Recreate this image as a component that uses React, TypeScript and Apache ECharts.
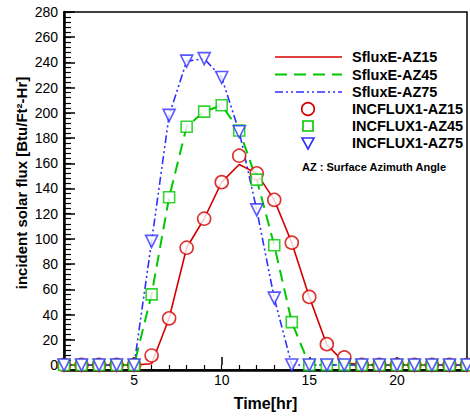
import React, { useEffect, useRef } from "react";
import * as echarts from "echarts";

// Hour of day for every sample
const hours = [1, 2, 3, 4, 5, 6, 7, 8, 9, 10, 11, 12, 13, 14, 15, 16, 17, 18, 19, 20, 21, 22, 23, 24];

// SfluxE curves (lines)
const sfluxAz15 = [0, 0, 0, 0, 0, 1, 37, 93, 116, 145, 159, 152, 131, 97, 54, 16, 2, 0, 0, 0, 0, 0, 0, 0];
const sfluxAz45 = [0, 0, 0, 0, 0, 56, 133, 189, 201, 206, 186, 147, 95, 34, 0, 0, 0, 0, 0, 0, 0, 0, 0, 0];
const sfluxAz75 = [0, 0, 0, 0, 0, 98, 198, 241, 243, 228, 185, 123, 53, 0, 0, 0, 0, 0, 0, 0, 0, 0, 0, 0];

// INCFLUX1 samples (markers)
const incAz15 = [0, 0, 0, 0, 0, 7.5, 37, 93, 116, 145, 166, 152, 131, 97, 54, 16.5, 6, 0, 0, 0, 0, 0, 0, 0];
const incAz45 = [0, 0, 0, 0, 0, 56, 133, 189, 201, 206, 186, 147, 95, 34, 0, 0, 0, 0, 0, 0, 0, 0, 0, 0];
const incAz75 = [0, 0, 0, 0, 0, 98, 198, 241, 243, 228, 185, 123, 53, 0, 0, 0, 0, 0, 0, 0, 0, 0, 0, 0];

// Axis ticks
const yMajorTicks = [0, 20, 40, 60, 80, 100, 120, 140, 160, 180, 200, 220, 240, 260, 280];
const xMajorTicks = [5, 10, 15, 20];

const RED = "#d40000";
const GREEN = "#00c800";
const BLUE = "#2f2fff";
const FONT = "'Liberation Sans', Arial, sans-serif";

const pair = (ys: number[]) => hours.map((h, i) => [h, ys[i]]);

export default function App() {
  const ref = useRef<HTMLDivElement>(null);

  useEffect(() => {
    if (!ref.current) return;
    const chart = echarts.init(ref.current, undefined, { renderer: "svg" });

    const baseX = {
      type: "value" as const,
      min: 1,
      max: 24,
      interval: 1,
      splitLine: { show: false },
    };
    const baseY = {
      type: "value" as const,
      min: -4,
      max: 280,
      interval: 4,
      splitLine: { show: false },
    };

    const legendLines = [
      { y: 57, color: RED, dash: undefined as any, width: 1.6, name: "SfluxE-AZ15" },
      { y: 74.5, color: GREEN, dash: [12, 7], width: 2, name: "SfluxE-AZ45" },
      { y: 92, color: BLUE, dash: [8, 3, 2, 3, 2, 3], width: 1.6, name: "SfluxE-AZ75" },
    ];
    const legendGraphics: any[] = [];
    legendLines.forEach((l) => {
      legendGraphics.push({
        type: "line",
        shape: { x1: 275, y1: l.y, x2: 342, y2: l.y },
        style: { stroke: l.color, lineWidth: l.width, lineDash: l.dash },
      });
      legendGraphics.push({
        type: "text",
        x: 352,
        y: l.y,
        style: { text: l.name, font: `bold 14.5px ${FONT}`, fill: "#000", textVerticalAlign: "middle" },
      });
    });
    const mx = 308;
    legendGraphics.push(
      {
        type: "circle",
        shape: { cx: mx, cy: 109, r: 6.3 },
        style: { fill: "#fff", stroke: RED, lineWidth: 1.6 },
      },
      {
        type: "rect",
        shape: { x: mx - 5, y: 126 - 5, width: 10, height: 10 },
        style: { fill: "#fff", stroke: GREEN, lineWidth: 1.6 },
      },
      {
        type: "polygon",
        shape: { points: [[mx - 6, 138], [mx + 6, 138], [mx, 149]] },
        style: { fill: "#fff", stroke: BLUE, lineWidth: 1.6 },
      }
    );
    [
      { y: 109, name: "INCFLUX1-AZ15" },
      { y: 126, name: "INCFLUX1-AZ45" },
      { y: 143, name: "INCFLUX1-AZ75" },
    ].forEach((t) => {
      legendGraphics.push({
        type: "text",
        x: 352,
        y: t.y,
        style: { text: t.name, font: `bold 14.5px ${FONT}`, fill: "#000", textVerticalAlign: "middle" },
      });
    });
    legendGraphics.push({
      type: "text",
      x: 302,
      y: 167,
      style: { text: "AZ : Surface Azimuth Angle", font: `bold 11px ${FONT}`, fill: "#000", textVerticalAlign: "middle" },
    });
    // Rotated y-axis title
    legendGraphics.push({
      type: "text",
      x: 21,
      y: 183,
      rotation: Math.PI / 2,
      style: {
        text: "incident solar flux [Btu/Ft²-Hr]",
        font: `bold 15px ${FONT}`,
        fill: "#000",
        textAlign: "center",
        textVerticalAlign: "middle",
      },
    });

    chart.setOption({
      animation: false,
      backgroundColor: "#fff",
      grid: {
        left: 64,
        right: 3,
        top: 12,
        bottom: 37,
        show: true,
        borderColor: "#000",
        borderWidth: 1.5,
        backgroundColor: "transparent",
      },
      xAxis: [
        {
          ...baseX,
          axisLine: { show: true, onZero: false, lineStyle: { color: "#000", width: 2.5 } },
          axisTick: { show: true, inside: true, length: 5, lineStyle: { color: "#000", width: 1.2 } },
          axisLabel: {
            interval: 0,
            margin: 3,
            color: "#000",
            fontSize: 14,
            fontFamily: FONT,
            formatter: (v: number) => (xMajorTicks.includes(v) ? String(v) : ""),
          },
          name: "Time[hr]",
          nameLocation: "middle",
          nameGap: 25,
          nameTextStyle: { color: "#000", fontSize: 16, fontWeight: "bold", fontFamily: FONT },
        },
        {
          ...baseX,
          position: "bottom",
          axisLine: { show: false },
          axisTick: { show: true, inside: true, length: 8, customValues: xMajorTicks, lineStyle: { color: "#000", width: 1.5 } },
          axisLabel: { show: false },
        },
      ],
      yAxis: [
        {
          ...baseY,
          axisLine: { show: true, onZero: false, lineStyle: { color: "#000", width: 2.5 } },
          axisTick: { show: true, inside: true, length: 7, lineStyle: { color: "#000", width: 1.2 } },
          axisLabel: {
            interval: 0,
            margin: 6,
            color: "#000",
            fontSize: 14,
            fontFamily: FONT,
            formatter: (v: number) => (yMajorTicks.includes(v) ? String(v) : ""),
          },
        },
        {
          ...baseY,
          position: "left",
          axisLine: { show: false },
          axisTick: { show: true, inside: true, length: 11, customValues: yMajorTicks, lineStyle: { color: "#000", width: 1.5 } },
          axisLabel: { show: false },
        },
      ],
      graphic: legendGraphics,
      series: [
        {
          name: "SfluxE-AZ15",
          type: "line",
          data: pair(sfluxAz15),
          symbol: "none",
          lineStyle: { color: RED, width: 1.6 },
          z: 2,
        },
        {
          name: "SfluxE-AZ45",
          type: "line",
          data: pair(sfluxAz45),
          symbol: "none",
          lineStyle: { color: GREEN, width: 2, type: [12, 7] },
          z: 2,
        },
        {
          name: "SfluxE-AZ75",
          type: "line",
          data: pair(sfluxAz75),
          symbol: "none",
          lineStyle: { color: BLUE, width: 1.6, type: [8, 3, 2, 3, 2, 3] },
          z: 2,
        },
        {
          name: "INCFLUX1-AZ15",
          type: "scatter",
          data: pair(incAz15),
          symbol: "circle",
          symbolSize: 13,
          itemStyle: { color: "#fff", borderColor: RED, borderWidth: 1.6 },
          z: 3,
        },
        {
          name: "INCFLUX1-AZ45",
          type: "scatter",
          data: pair(incAz45),
          symbol: "rect",
          symbolSize: 11,
          itemStyle: { color: "#fff", borderColor: GREEN, borderWidth: 1.6 },
          z: 4,
        },
        {
          name: "INCFLUX1-AZ75",
          type: "scatter",
          data: pair(incAz75),
          symbol: "triangle",
          symbolRotate: 180,
          symbolSize: 12,
          itemStyle: { color: "#fff", borderColor: BLUE, borderWidth: 1.6 },
          z: 5,
        },
      ],
    });

    return () => chart.dispose();
  }, []);

  return <div ref={ref} style={{ position: "fixed", left: 0, top: 0, width: 470, height: 416 }} />;
}
